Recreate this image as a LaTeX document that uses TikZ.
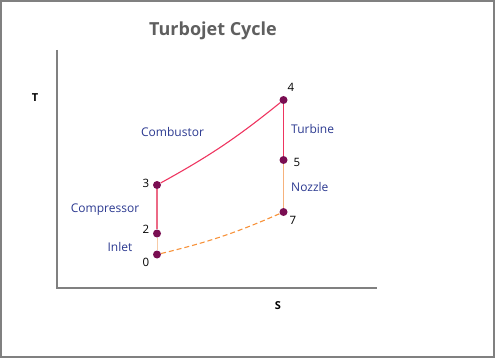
\documentclass[tikz,border=0pt]{standalone}
\usepackage{fontspec}
\setmainfont{Open Sans}
\usepackage{tikz}
\usetikzlibrary{positioning}

\definecolor{framegray}{HTML}{808080}
\definecolor{titlegray}{HTML}{5F5F5F}
\definecolor{dotpurple}{HTML}{7A0E52}
\definecolor{labelblue}{HTML}{2B3990}
\definecolor{hotline}{HTML}{EE3560}
\definecolor{pinkline}{HTML}{EC6A86}
\definecolor{peachline}{HTML}{F7CBA6}
\definecolor{nozzleline}{HTML}{F6B27C}
\definecolor{dashorange}{HTML}{F7923A}

\tikzset{
  statept/.style={circle, fill=dotpurple, inner sep=0pt, minimum size=8pt},
  numlabel/.style={font=\fontsize{11.5}{13}\selectfont, text=black, inner sep=1pt},
  stagelabel/.style={font=\fontsize{12}{14}\selectfont, text=labelblue, inner sep=0pt},
  axislabel/.style={font=\bfseries\fontsize{11}{13}\selectfont, inner sep=0pt}
}

\begin{document}
\begin{tikzpicture}[x=1pt, y=-1pt]
\useasboundingbox (0,0) rectangle (495,358);
\draw [framegray, line width=2pt] (1,1) rectangle (493.5,356.5);

\node (title) [font=\bfseries\fontsize{18}{21}\selectfont, text=titlegray] at (213,31) {Turbojet Cycle};

% axes
\coordinate (ytop) at (56.5,50);
\coordinate (origin) at (56.5,288);
\coordinate (xend) at (377,288);
\draw [framegray, line width=2pt] (ytop) -- (origin) -- (xend);
\node (T) [axislabel] at (35,98) {T};
\node (S) [axislabel] at (278,306) {S};

% states
\node (p0) [statept] at (157,254.5) {};
\node (p2) [statept] at (157,233.5) {};
\node (p3) [statept] at (157,185) {};
\node (p4) [statept] at (283.5,100) {};
\node (p5) [statept] at (283.5,160) {};
\node (p7) [statept] at (283.5,212) {};

% processes
\draw [peachline, line width=1pt] (p0) -- (p2);
\draw [pinkline, line width=1.2pt] (p2) -- (p3);
\draw [hotline, line width=1.1pt] (p3) to[bend right=5] (p4);
\draw [hotline, line width=1.2pt] (p4) -- (p5);
\draw [nozzleline, line width=1pt] (p5) -- (p7);
\draw [dashorange, line width=1.1pt, dash pattern=on 5pt off 3pt] (p0) to[bend right=5] (p7);

% numbers
\node (n0) [numlabel] at (146,262) {0};
\node (n2) [numlabel] at (146,229) {2};
\node (n3) [numlabel] at (146,183) {3};
\node (n4) [numlabel] at (291,87) {4};
\node (n5) [numlabel] at (297,162) {5};
\node (n7) [numlabel] at (293,220) {7};

% stages
\node (combustor) [stagelabel] at (172.5,132) {Combustor};
\node (turbine) [stagelabel, anchor=west] at (291,129) {Turbine};
\node (nozzle) [stagelabel, anchor=west] at (291,187) {Nozzle};
\node (compressor) [stagelabel] at (105,210) {Compressor};
\node (inlet) [stagelabel] at (120,247) {Inlet};
\end{tikzpicture}
\end{document}
